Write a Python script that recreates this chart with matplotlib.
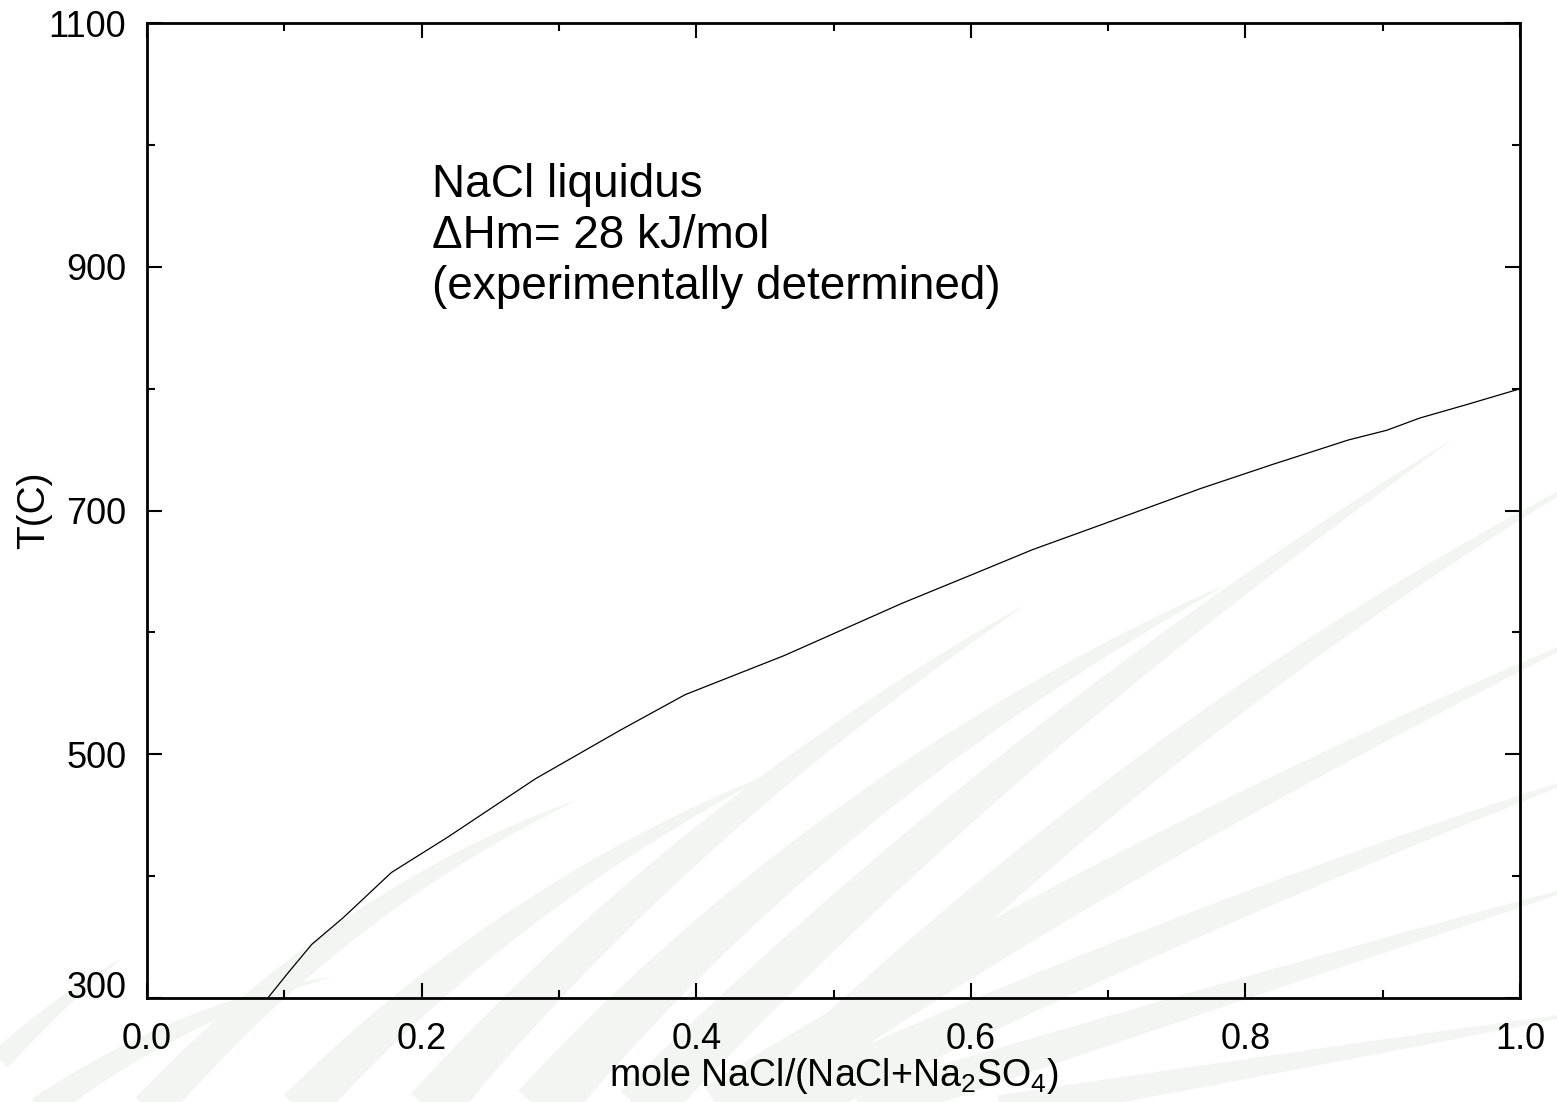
import numpy as np
import matplotlib
matplotlib.use("Agg")
import matplotlib.pyplot as plt
from matplotlib.patches import Polygon
from matplotlib.ticker import FixedLocator, MultipleLocator

plt.rcParams['font.family'] = ['Liberation Sans', 'DejaVu Sans']
plt.rcParams['mathtext.fontset'] = 'custom'
plt.rcParams['mathtext.rm'] = 'Liberation Sans'
plt.rcParams['mathtext.it'] = 'Liberation Sans:italic'
plt.rcParams['mathtext.bf'] = 'Liberation Sans:bold'
plt.rcParams['mathtext.default'] = 'regular'

# NaCl liquidus in the NaCl-Na2SO4 system
x_nacl = [0.088, 0.103, 0.120, 0.143, 0.178, 0.219, 0.283, 0.345, 0.392,
          0.464, 0.530, 0.550, 0.602, 0.645, 0.694, 0.767, 0.820, 0.875,
          0.903, 0.927, 0.961, 1.000]
t_liquidus = [300, 321, 344, 366, 403, 432, 480, 520, 549,
              581, 614, 624, 648, 668, 688, 718, 738, 758,
              766, 776, 787, 800]

x_ticks = [0.0, 0.2, 0.4, 0.6, 0.8, 1.0]
x_tick_labels = ["0.0", "0.2", "0.4", "0.6", "0.8", "1.0"]
y_ticks = [300, 500, 700, 900, 1100]
y_tick_labels = ["300", "500", "700", "900", "1100"]

note_lines = ["NaCl liquidus", "\u0394Hm= 28 kJ/mol", "(experimentally determined)"]

W, H = 1557, 1102
fig = plt.figure(figsize=(W / 100, H / 100), dpi=100)
fig.patch.set_facecolor("white")


# faint swoosh decoration behind the plot
def blade(base, ctrl, tip, width, color="#f3f5f3"):
    t = np.linspace(0, 1, 80)[:, None]
    p0, p1, p2 = (np.array(v, float) for v in (base, ctrl, tip))
    c = (1 - t) ** 2 * p0 + 2 * (1 - t) * t * p1 + t ** 2 * p2
    d = 2 * (1 - t) * (p1 - p0) + 2 * t * (p2 - p1)
    n = np.column_stack([-d[:, 1], d[:, 0]])
    n /= np.linalg.norm(n, axis=1)[:, None]
    w = width * (1 - t[:, 0]) ** 0.8
    left = c + n * w[:, None] / 2
    right = c - n * w[:, None] / 2
    pts = np.vstack([left, right[::-1]])
    pts = np.column_stack([pts[:, 0] / W, 1 - pts[:, 1] / H])
    fig.patches.append(Polygon(pts, closed=True, transform=fig.transFigure,
                               facecolor=color, edgecolor="none", zorder=-5))


blades = [
    ((40, 1110), (180, 1010), (332, 977), 28),
    ((150, 1110), (340, 900), (577, 800), 38),
    ((300, 1110), (500, 900), (768, 775), 44),
    ((430, 1110), (680, 820), (1025, 605), 50),
    ((540, 1110), (820, 790), (1225, 585), 58),
    ((640, 1110), (1000, 740), (1452, 440), 54),
    ((760, 1110), (1150, 720), (1600, 470), 50),
    ((720, 1110), (1100, 860), (1600, 630), 56),
    ((780, 1110), (1150, 930), (1600, 770), 48),
    ((860, 1110), (1200, 1000), (1600, 880), 40),
    ((1000, 1110), (1300, 1060), (1600, 1010), 30),
    ((0, 1060), (60, 1000), (120, 960), 22),
]
for b in blades:
    blade(*b)

ax = fig.add_axes([147 / W, 1 - 998 / H, (1520 - 147) / W, (998 - 23.3) / H])
ax.set_facecolor("none")

ax.plot(x_nacl, t_liquidus, color="black", linewidth=0.9)

ax.set_xlim(0.0, 1.0)
ax.set_ylim(300, 1100)
ax.xaxis.set_major_locator(FixedLocator(x_ticks))
ax.set_xticklabels(x_tick_labels)
ax.xaxis.set_minor_locator(MultipleLocator(0.1))
ax.yaxis.set_major_locator(FixedLocator(y_ticks))
ax.set_yticklabels(y_tick_labels)
ax.yaxis.set_minor_locator(MultipleLocator(100))

for s in ax.spines.values():
    s.set_linewidth(2.0)

ax.tick_params(which="both", direction="in", top=True, right=True,
               labelsize=26, width=1.5)
ax.tick_params(which="major", length=11)
ax.tick_params(which="minor", length=6)
ax.tick_params(axis="x", which="major", pad=17)
ax.tick_params(axis="y", which="major", pad=15)

# lowest temperature label sits on its baseline
ax.yaxis.get_major_ticks()[0].label1.set_verticalalignment("baseline")

ax.set_xlabel("mole NaCl/(NaCl+Na$_2$SO$_4$)", fontsize=27)
ax.xaxis.set_label_coords(0.5, -0.0595)
ax.set_ylabel("T(C)", fontsize=28)
ax.yaxis.set_label_coords(-0.069, 0.5)

ax.text(0.2076, 985, "\n".join(note_lines), fontsize=33, va="top", ha="left",
        linespacing=1.2)

fig.savefig("out.png", dpi=100)
